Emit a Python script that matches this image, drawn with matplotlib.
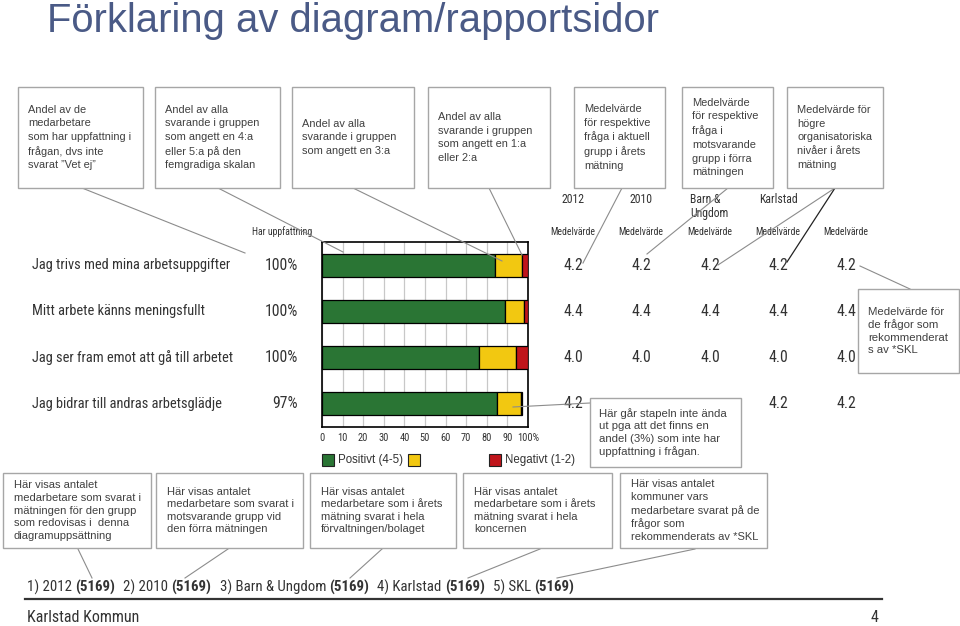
import matplotlib
matplotlib.use("Agg")
import matplotlib.pyplot as plt
from matplotlib import font_manager
from matplotlib.patches import Rectangle
from matplotlib.lines import Line2D
from matplotlib.transforms import blended_transform_factory

# ---------------- data ----------------
questions = ["Jag trivs med mina arbetsuppgifter",
             "Mitt arbete känns meningsfullt",
             "Jag ser fram emot att gå till arbetet",
             "Jag bidrar till andras arbetsglädje"]
har_uppfattning = [100, 100, 100, 97]
positivt = [84, 89, 76, 85]
neutral = [13, 9, 18, 11.5]
negativt = [3, 2, 6, 0.5]

col_headers = ["2012", "2010", "Barn &\nUngdom", "Karlstad", ""]
# values hidden behind the callout box in the reference are left as None
mean_2012 = [4.2, 4.4, 4.0, 4.2]
mean_2010 = [4.2, 4.4, 4.0, None]
mean_barn = [4.2, 4.4, 4.0, None]
mean_karlstad = [4.2, 4.4, 4.0, 4.2]
mean_skl = [4.2, 4.4, 4.0, 4.2]
means = [mean_2012, mean_2010, mean_barn, mean_karlstad, mean_skl]

footer_groups = ["2012", "2010", "Barn & Ungdom", "Karlstad", "SKL"]
footer_n = [5169, 5169, 5169, 5169, 5169]

xticks = [0, 10, 20, 30, 40, 50, 60, 70, 80, 90, 100]
xtick_labels = ["0", "10", "20", "30", "40", "50", "60", "70", "80", "90", "100%"]

legend_labels = ["Positivt (4-5)", "", "Negativt (1-2)"]

# ---------------- fonts ----------------
available = {f.name for f in font_manager.fontManager.ttflist}
narrow_pref = ["Arial Narrow", "Liberation Sans Narrow", "Roboto Condensed",
               "PT Sans Narrow", "Archivo Narrow", "Pragati Narrow",
               "IBM Plex Sans Condensed", "Open Sans Condensed"]
narrow_name = next((n for n in narrow_pref if n in available), "DejaVu Sans")
NARROW = [narrow_name, "DejaVu Sans"]
ARIAL = ["Liberation Sans", "DejaVu Sans"]

# ---------------- style ----------------
W, H = 960, 626
GREEN, YELLOW, RED = "#2a7534", "#f2c811", "#c0151b"
TXT = "#333333"
BOXTXT = "#404040"
BOXEDGE = "#a6a6a6"
LINEC = "#8c8c8c"


def fx(x):
    return x / W


def fy(y):
    return 1 - y / H


fig = plt.figure(figsize=(9.6, 6.26), dpi=100)
fig.patch.set_facecolor("white")

# title
fig.text(fx(47), fy(21), "Förklaring av diagram/rapportsidor", family=ARIAL,
         fontsize=28.8, color="#4a5a86", ha="left", va="center")

# ---------------- bar axes ----------------
ax = fig.add_axes([fx(322), fy(427), fx(528) - fx(322), (427 - 242) / H])
ypos = list(range(len(questions)))
ax.barh(ypos, positivt, height=0.5, color=GREEN, edgecolor="black", lw=0.9, zorder=3)
ax.barh(ypos, neutral, left=positivt, height=0.5, color=YELLOW, edgecolor="black", lw=0.9, zorder=3)
left_neg = [p + n for p, n in zip(positivt, neutral)]
ax.barh(ypos, negativt, left=left_neg, height=0.5, color=RED, edgecolor="black", lw=0.9, zorder=3)
ax.set_xlim(0, 100)
ax.set_ylim(len(questions) - 0.5, -0.5)
ax.set_yticks([])
ax.set_xticks(xticks)
ax.set_xticklabels(xtick_labels, family=NARROW, fontsize=7.5, color=TXT)
ax.tick_params(axis="x", length=0, pad=4)
ax.grid(axis="x", color="#c8c8c8", lw=0.9, zorder=0)
for s in ax.spines.values():
    s.set_color("black")
    s.set_linewidth(1.2)

rowtr = blended_transform_factory(fig.transFigure, ax.transData)

# row labels and shares
for i, q in enumerate(questions):
    fig.text(fx(32), i, q, transform=rowtr, family=NARROW, fontsize=10.4,
             color=TXT, ha="left", va="center")
    fig.text(fx(298), i, f"{har_uppfattning[i]}%", transform=rowtr, family=NARROW,
             fontsize=11.3, color=TXT, ha="right", va="center")

# mean value columns
col_x = [573, 641, 710, 778, 846]
for c, vals in enumerate(means):
    for i, v in enumerate(vals):
        if v is None:
            continue
        fig.text(fx(col_x[c]), i, f"{v:.1f}", transform=rowtr, family=NARROW,
                 fontsize=11.3, color=TXT, ha="center", va="center", zorder=3)
    hdr = col_headers[c]
    if hdr:
        if "\n" in hdr:
            fig.text(fx(col_x[c] - 20), fy(193), hdr, family=NARROW, fontsize=8.5,
                     color=TXT, ha="left", va="top", linespacing=1.1)
        else:
            fig.text(fx(col_x[c]), fy(200), hdr, family=NARROW, fontsize=8.5,
                     color=TXT, ha="center", va="center")
    fig.text(fx(col_x[c]), fy(232), "Medelvärde", family=NARROW, fontsize=7,
             color=TXT, ha="center", va="center")

fig.text(fx(282), fy(232), "Har uppfattning", family=NARROW, fontsize=7,
         color=TXT, ha="center", va="center")

# legend
leg_colors = [GREEN, YELLOW, RED]
leg_x = [322, 408, 489]
for lx, colr, lab in zip(leg_x, leg_colors, legend_labels):
    fig.add_artist(Rectangle((fx(lx), fy(466)), 12 / W, 12 / H, transform=fig.transFigure,
                             facecolor=colr, edgecolor="#222222", lw=0.8))
    if lab:
        fig.text(fx(lx + 16), fy(460), lab, family=ARIAL, fontsize=8.3,
                 color=TXT, ha="left", va="center")


# ---------------- callout boxes ----------------
def box(x0, y0, x1, y1, text, fs=7.9, pad=10, ls=1.45):
    fig.add_artist(Rectangle((fx(x0), fy(y1)), (x1 - x0) / W, (y1 - y0) / H,
                             transform=fig.transFigure, facecolor="white",
                             edgecolor=BOXEDGE, lw=1.0, zorder=5))
    fig.text(fx(x0 + pad), fy((y0 + y1) / 2), text, family=ARIAL, fontsize=fs,
             color=BOXTXT, ha="left", va="center", linespacing=ls, zorder=6)


def line(x0, y0, x1, y1, color=LINEC, lw=0.8):
    fig.add_artist(Line2D([fx(x0), fx(x1)], [fy(y0), fy(y1)], transform=fig.transFigure,
                          color=color, lw=lw, zorder=4))


top_boxes = [
    (18, 143, "Andel av de\nmedarbetare\nsom har uppfattning i\nfrågan, dvs inte\nsvarat ”Vet ej”"),
    (155, 280, "Andel av alla\nsvarande i gruppen\nsom angett en 4:a\neller 5:a på den\nfemgradiga skalan"),
    (292, 414, "Andel av alla\nsvarande i gruppen\nsom angett en 3:a"),
    (428, 550, "Andel av alla\nsvarande i gruppen\nsom angett en 1:a\neller 2:a"),
    (574, 665, "Medelvärde\nför respektive\nfråga i aktuell\ngrupp i årets\nmätning"),
    (682, 773, "Medelvärde\nför respektive\nfråga i\nmotsvarande\ngrupp i förra\nmätningen"),
    (787, 883, "Medelvärde för\nhögre\norganisatoriska\nnivåer i årets\nmätning"),
]
for x0, x1, t in top_boxes:
    box(x0, 87, x1, 188, t)

# connector lines from top boxes
line(82, 188, 245, 253)
line(218, 188, 343, 252)
line(353, 188, 502, 261)
line(489, 188, 522, 255)
line(622, 188, 583, 263)
line(728, 188, 647, 254)
line(835, 188, 718, 265)
line(835, 188, 787, 262, color="#222222", lw=0.9)

# right box
box(858, 289, 959, 373, "Medelvärde för\nde frågor som\nrekommenderat\ns av *SKL", fs=8.2, ls=1.3)
line(860, 266, 910, 289)

# middle box
line(513, 407, 590, 403)
box(590, 398, 741, 467, "Här går stapeln inte ända\nut pga att det finns en\nandel (3%) som inte har\nuppfattning i frågan.",
    fs=8.2, pad=9, ls=1.3)

# bottom boxes
bottom_boxes = [
    (3, 151, "Här visas antalet\nmedarbetare som svarat i\nmätningen för den grupp\nsom redovisas i  denna\ndiagramuppsättning"),
    (156, 303, "Här visas antalet\nmedarbetare som svarat i\nmotsvarande grupp vid\nden förra mätningen"),
    (310, 456, "Här visas antalet\nmedarbetare som i årets\nmätning svarat i hela\nförvaltningen/bolaget"),
    (463, 612, "Här visas antalet\nmedarbetare som i årets\nmätning svarat i hela\nkoncernen"),
    (620, 767, "Här visas antalet\nkommuner vars\nmedarbetare svarat på de\nfrågor som\nrekommenderats av *SKL"),
]
for x0, x1, t in bottom_boxes:
    box(x0, 473, x1, 548, t, fs=8.0, pad=11, ls=1.32)

line(78, 549, 92, 578)
line(228, 549, 185, 578)
line(382, 549, 350, 578)
line(540, 549, 468, 578)
line(695, 549, 557, 578)

# ---------------- footer ----------------
footer_texts = []
for k, (g, n) in enumerate(zip(footer_groups, footer_n)):
    t1 = fig.text(0, fy(592), f"{k + 1}) {g} ", family=NARROW, fontsize=10.7,
                  color=TXT, ha="left", va="baseline")
    t2 = fig.text(0, fy(592), f"({n})", family=NARROW, fontsize=10.7, fontweight="bold",
                  color=TXT, ha="left", va="baseline")
    footer_texts.append((t1, t2))

fig.canvas.draw()
renderer = fig.canvas.get_renderer()
xcur = 27
for t1, t2 in footer_texts:
    t1.set_x(fx(xcur))
    xcur += t1.get_window_extent(renderer).width
    t2.set_x(fx(xcur))
    xcur += t2.get_window_extent(renderer).width + 8

fig.add_artist(Line2D([fx(25), fx(882)], [fy(599), fy(599)], transform=fig.transFigure,
                      color="#333333", lw=1.6))
fig.text(fx(27), fy(617), "Karlstad Kommun", family=NARROW, fontsize=11.5,
         color=TXT, ha="left", va="center")
fig.text(fx(878), fy(617), "4", family=NARROW, fontsize=11.5, color=TXT,
         ha="right", va="center")

fig.savefig("out.png", dpi=100)
